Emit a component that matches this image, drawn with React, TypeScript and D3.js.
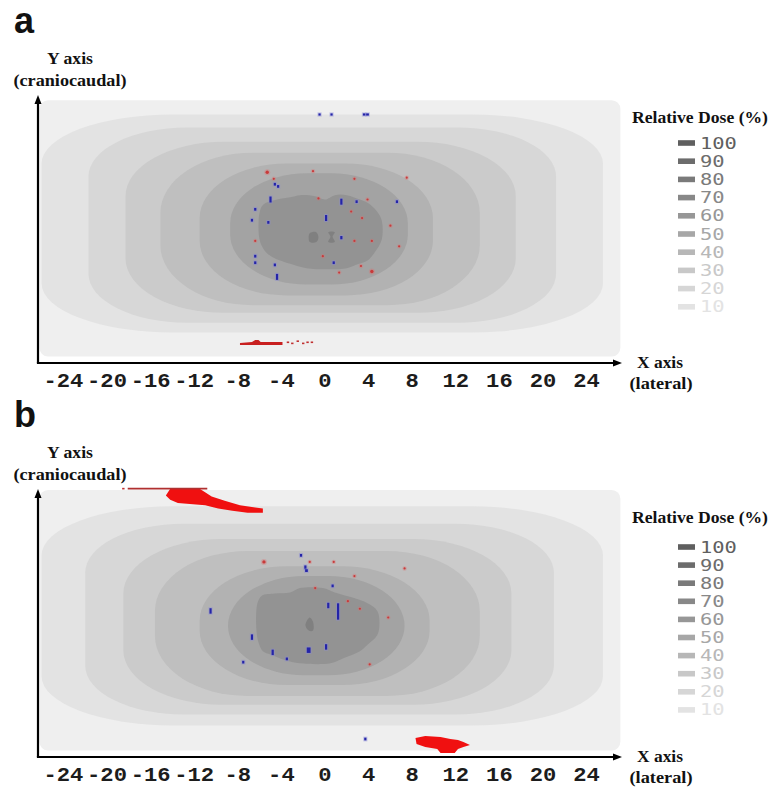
import React from "react";
import * as d3 from "d3";

// ---------- data (cm) ----------
const xTickValues = [-24, -20, -16, -12, -8, -4, 0, 4, 8, 12, 16, 20, 24];
const legendLevels = [100, 90, 80, 70, 60, 50, 40, 30, 20, 10];
const legendColors = ["#5f5f5f", "#6c6c6c", "#7a7a7a", "#888888", "#979797", "#a7a7a7", "#b7b7b7", "#c8c8c8", "#d6d6d6", "#e3e3e3"];

const isoLevels = [10, 20, 30, 40, 50, 60, 70];
const isoFills = ["#efefef", "#e3e3e3", "#d7d7d7", "#cbcbcb", "#bfbfbf", "#b2b2b2", "#a3a3a3"];
const coreFills = ["#939393", "#808080"]; // 80 %, 90 %
// [left, right, top, bottom]
const isoExtentA = [
  [-26.2, 27.1, 24.1, 0.6],
  [-26.0, 25.5, 22.8, 2.8],
  [-21.7, 21.2, 21.6, 3.7],
  [-18.3, 17.5, 20.3, 4.6],
  [-15.1, 14.2, 19.3, 5.3],
  [-11.5, 9.9, 18.3, 6.2],
  [-8.7, 7.6, 17.4, 7.2],
];
const isoExtentB = [
  [-26.2, 27.1, 24.5, 0.6],
  [-26.0, 25.5, 23.0, 2.9],
  [-22.0, 21.0, 21.4, 3.9],
  [-18.5, 17.1, 20.0, 4.8],
  [-15.6, 14.2, 18.9, 5.6],
  [-11.5, 9.6, 17.5, 6.6],
  [-8.9, 7.3, 16.6, 7.5],
];
// corner radii [rx, ry]
const isoCorner = [[0.8, 0.8], [12, 4.5], [9, 4.5], [9, 5], [8.5, 5.5], [8, 5], [7, 4.6]];

const core80A = [[-6.0, 13.8], [-5.7, 14.5], [-4.4, 15.0], [-3.2, 15.2], [-2.3, 15.4], [-0.9, 15.3], [0, 15.0], [0.9, 15.4], [2.0, 15.4], [3.2, 15.0], [3.9, 14.7], [4.7, 14.0], [5.2, 13.1], [5.2, 11.3], [4.6, 10.2], [3.9, 9.4], [2.8, 9.0], [2.0, 8.7], [0.5, 8.6], [-1.7, 8.7], [-3.2, 9.1], [-4.8, 9.7], [-5.6, 10.4], [-6.0, 11.3], [-6.1, 12.7]];
const core80B = [[-6.2, 14.1], [-5.8, 14.8], [-4.6, 15.0], [-3.2, 15.1], [-2.3, 15.5], [-0.2, 15.5], [0.9, 15.1], [2.6, 14.6], [3.9, 14.1], [4.8, 13.4], [5.0, 12.3], [4.8, 11.2], [3.9, 10.3], [3.2, 9.7], [1.8, 9.1], [0.5, 8.6], [-2.3, 8.6], [-3.7, 8.9], [-5.0, 9.4], [-5.7, 9.7], [-6.1, 10.5], [-6.3, 11.8]];
const core90A = [
  [[-1.4, 11.9], [-0.8, 12.0], [-0.6, 11.5], [-0.8, 11.1], [-1.4, 11.1], [-1.5, 11.5]],
  [[0.3, 12.0], [0.9, 12.0], [0.7, 11.6], [0.9, 11.1], [0.3, 11.1], [0.5, 11.6]],
];
const core90B = [
  [[-1.4, 12.8], [-1.1, 12.4], [-1.1, 11.6], [-1.5, 11.6], [-1.8, 12.1]],
];

// red points [x, y, big]
const redDotsA = [[-5.3, 17.5, 1], [-1.1, 17.6, 0], [2.7, 16.9, 0], [7.5, 17.0, 0], [-4.7, 16.9, 0], [-0.6, 15.1, 0], [3.9, 15.0, 0], [2.4, 13.9, 0], [3.4, 13.3, 0], [6.0, 12.6, 0], [-6.4, 11.2, 0], [2.7, 11.2, 0], [4.3, 11.2, 0], [6.8, 10.7, 0], [-0.2, 9.8, 0], [3.3, 8.9, 0], [4.3, 8.4, 1], [1.3, 8.3, 0]];
const redSpecksA = [[-3.4, 1.9], [-3.0, 1.8], [-2.5, 2.0], [-2.0, 1.8], [-1.6, 1.9], [-1.2, 1.9]];
const redDotsB = [[-5.6, 17.9, 1], [-1.4, 17.9, 0], [0.8, 17.9, 0], [7.3, 17.3, 0], [2.7, 16.6, 0], [-0.9, 15.5, 0], [2.1, 14.3, 0], [3.2, 13.6, 0], [5.8, 12.8, 0], [4.1, 8.5, 0]];
const redSpecksB = [[-18.5, 24.62]];
// blue points [x, y, height, width]
const blueA = [[-4.6, 16.4, 0.25, 0.2], [-4.3, 16.2, 0.25, 0.2], [-5.0, 15.0, 0.55, 0.2], [1.5, 14.8, 0.55, 0.2], [2.9, 14.8, 0.25, 0.2], [6.6, 14.8, 0.25, 0.2], [-6.4, 14.1, 0.25, 0.2], [-6.7, 13.1, 0.25, 0.2], [-5.2, 12.9, 0.25, 0.2], [0.1, 13.3, 0.55, 0.2], [1.5, 11.5, 0.3, 0.2], [-6.4, 9.8, 0.25, 0.2], [-6.4, 9.2, 0.25, 0.2], [-4.6, 9.0, 0.25, 0.2], [0.8, 9.2, 0.25, 0.2], [-4.4, 7.9, 0.55, 0.2], [-0.5, 22.8, 0.2, 0.2], [0.6, 22.8, 0.2, 0.2], [3.6, 22.8, 0.2, 0.25], [3.9, 22.8, 0.2, 0.25]];
const blueB = [[-2.2, 18.5, 0.25, 0.2], [-1.8, 17.4, 0.35, 0.2], [-1.7, 17.1, 0.25, 0.25], [0.7, 15.7, 0.25, 0.2], [-10.5, 13.4, 0.5, 0.2], [0.3, 13.9, 0.5, 0.2], [1.2, 13.35, 1.5, 0.2], [-6.7, 11.0, 0.5, 0.2], [-4.8, 9.6, 0.5, 0.2], [-3.5, 9.0, 0.25, 0.2], [-7.5, 8.7, 0.25, 0.2], [-1.5, 9.8, 0.5, 0.35], [0.1, 10.1, 0.5, 0.2], [3.7, 1.65, 0.25, 0.2]];

// red areas
const redAreasA = [
  [[-7.8, 1.83], [-6.7, 1.93], [-6.4, 2.11], [-6.1, 2.11], [-5.9, 1.93], [-3.9, 1.93], [-3.9, 1.65], [-7.8, 1.65]],
];
const redAreasB = [
  [[-14.2, 24.6], [-11.5, 24.6], [-11.0, 24.3], [-10.4, 23.9], [-9.2, 23.5], [-7.8, 23.1], [-6.4, 22.9], [-5.7, 22.8], [-5.7, 22.4], [-7.1, 22.4], [-8.5, 22.6], [-9.8, 22.8], [-11.0, 23.1], [-12.4, 23.2], [-13.5, 23.3], [-14.2, 23.6], [-14.6, 24.0]],
  [[8.3, 1.74], [9.2, 1.93], [10.6, 1.83], [11.5, 1.65], [12.2, 1.56], [12.7, 1.38], [13.3, 1.10], [12.7, 0.92], [12.2, 0.73], [11.9, 0.37], [10.6, 0.37], [10.3, 0.73], [9.2, 0.92], [8.4, 1.2]],
];
const redLinesB = [[[-18.1, 24.62], [-10.8, 24.62]]];

// ---------- component ----------
const W = 770;
const H = 787;
const x = d3.scaleLinear().domain([-24, 24]).range([63.4, 586.6]);
const k = x(1) - x(0);

type PanelProps = {
  label: string;
  dy: number;
  ext: number[][];
  core80: number[][];
  core90: number[][][];
  redDots: number[][];
  redSpecks: number[][];
  blue: number[][];
  redAreas: number[][][];
  redLines: number[][][];
  legendTitleY: number;
  legendY0: number;
  legendStep: number;
};

function Panel(p: PanelProps) {
  const y = d3.scaleLinear().domain([0, 24]).range([363 + p.dy, 363 + p.dy - 24 * k]);
  const smooth = d3.line<number[]>().x((d) => x(d[0])).y((d) => y(d[1])).curve(d3.curveCatmullRomClosed.alpha(0.5));
  const poly = d3.line<number[]>().x((d) => x(d[0])).y((d) => y(d[1])).curve(d3.curveLinearClosed);
  const open = d3.line<number[]>().x((d) => x(d[0])).y((d) => y(d[1]));
  const ox = 38;
  const oy = 363 + p.dy;
  const tipY = 95 + p.dy;
  const tipX = 622;
  const serif = "'Liberation Serif', 'Times New Roman', serif";
  const lab = { fontFamily: serif, fontWeight: "bold" as const, fontSize: 16.5, fill: "#111" };
  return (
    <g>
      <text x={14} y={33 + p.dy} fontFamily="'Liberation Sans', Arial, sans-serif" fontWeight="bold" fontSize={36} fill="#111">{p.label}</text>
      <text x={70} y={64 + p.dy} textAnchor="middle" {...lab} textLength={46} lengthAdjust="spacingAndGlyphs">Y axis</text>
      <text x={70} y={86 + p.dy} textAnchor="middle" {...lab} textLength={113} lengthAdjust="spacingAndGlyphs">(craniocaudal)</text>

      {p.ext.map((e, i) => {
        const [L, R, T, B] = e;
        const [rx, ry] = isoCorner[i];
        return (
          <rect key={isoLevels[i]} x={x(L)} y={y(T)} width={x(R) - x(L)} height={y(B) - y(T)} rx={rx * k} ry={ry * k} fill={isoFills[i]} />
        );
      })}
      <path d={smooth(p.core80) || ""} fill={coreFills[0]} />
      {p.core90.map((c, i) => (
        <path key={i} d={smooth(c) || ""} fill={coreFills[1]} />
      ))}

      {p.redDots.map((d, i) => (
        <g key={"r" + i}>
          <circle cx={x(d[0])} cy={y(d[1])} r={d[2] ? 3 : 2.2} fill="#e07070" opacity={0.35} />
          <circle cx={x(d[0])} cy={y(d[1])} r={d[2] ? 1.7 : 1.1} fill="#c83a3a" />
        </g>
      ))}
      {p.redSpecks.map((d, i) => (
        <rect key={"s" + i} x={x(d[0]) - 1.2} y={y(d[1]) - 0.8} width={2.4} height={1.6} fill="#c03030" />
      ))}
      {p.blue.map((d, i) => {
        const h = d[2] * k;
        const w = d[3] * k;
        return (
          <g key={"b" + i}>
            <rect x={x(d[0]) - w / 2 - 1} y={y(d[1]) - h / 2 - 1} width={w + 2} height={h + 2} fill="#8c8cd8" opacity={0.45} />
            <rect x={x(d[0]) - w / 2} y={y(d[1]) - h / 2} width={w} height={h} fill="#2424a8" />
          </g>
        );
      })}
      {p.redAreas.map((a, i) => (
        <path key={"ra" + i} d={poly(a) || ""} fill={i === 0 && p.label === "a" ? "#c82020" : "#f01010"} />
      ))}
      {p.redLines.map((l, i) => (
        <path key={"rl" + i} d={open(l) || ""} stroke="#b03030" strokeWidth={1.6} fill="none" />
      ))}

      {/* axes */}
      <line x1={ox} y1={oy} x2={ox} y2={tipY + 7} stroke="#000" strokeWidth={2.2} />
      <path d={`M${ox},${tipY} L${ox - 3.5},${tipY + 9} L${ox + 3.5},${tipY + 9} Z`} fill="#000" />
      <line x1={ox - 1.1} y1={oy} x2={tipX - 7} y2={oy} stroke="#000" strokeWidth={2.2} />
      <path d={`M${tipX},${oy} L${tipX - 9},${oy - 3.5} L${tipX - 9},${oy + 3.5} Z`} fill="#000" />
      {xTickValues.map((v) => {
        const s = String(v);
        return (
          <text key={v} x={x(v)} y={oy + 24} textAnchor="middle" fontFamily="'Liberation Mono', 'Courier New', monospace" fontWeight="bold" fontSize={21} fill="#1c1c1c" textLength={13.3 * s.length} lengthAdjust="spacingAndGlyphs">{s}</text>
        );
      })}
      <text x={660} y={oy + 5} textAnchor="middle" {...lab} textLength={46} lengthAdjust="spacingAndGlyphs">X axis</text>
      <text x={661} y={oy + 26} textAnchor="middle" {...lab} textLength={63} lengthAdjust="spacingAndGlyphs">(lateral)</text>

      {/* legend */}
      <text x={700} y={p.legendTitleY} textAnchor="middle" {...lab} textLength={136} lengthAdjust="spacingAndGlyphs">Relative Dose (%)</text>
      {legendLevels.map((lv, i) => {
        const cy = p.legendY0 + i * p.legendStep;
        const s = String(lv);
        return (
          <g key={lv}>
            <rect x={678} y={cy - 2.8} width={17} height={5.6} fill={legendColors[i]} />
            <text x={700} y={cy + 5.5} fontFamily="'DejaVu Sans Mono', monospace" fontSize={15} fill={legendColors[i]} textLength={12.3 * s.length} lengthAdjust="spacingAndGlyphs">{s}</text>
          </g>
        );
      })}
    </g>
  );
}

export default function App() {
  return (
    <svg width={W} height={H} viewBox={`0 0 ${W} ${H}`} style={{ position: "absolute", left: 0, top: 0, background: "#fff" }}>
      <rect x={0} y={0} width={W} height={H} fill="#fff" />
      <Panel label="a" dy={0} ext={isoExtentA} core80={core80A} core90={core90A} redDots={redDotsA} redSpecks={redSpecksA} blue={blueA} redAreas={redAreasA} redLines={[]} legendTitleY={123} legendY0={143} legendStep={18.2} />
      <Panel label="b" dy={394} ext={isoExtentB} core80={core80B} core90={core90B} redDots={redDotsB} redSpecks={redSpecksB} blue={blueB} redAreas={redAreasB} redLines={redLinesB} legendTitleY={523} legendY0={547} legendStep={18.1} />
    </svg>
  );
}
